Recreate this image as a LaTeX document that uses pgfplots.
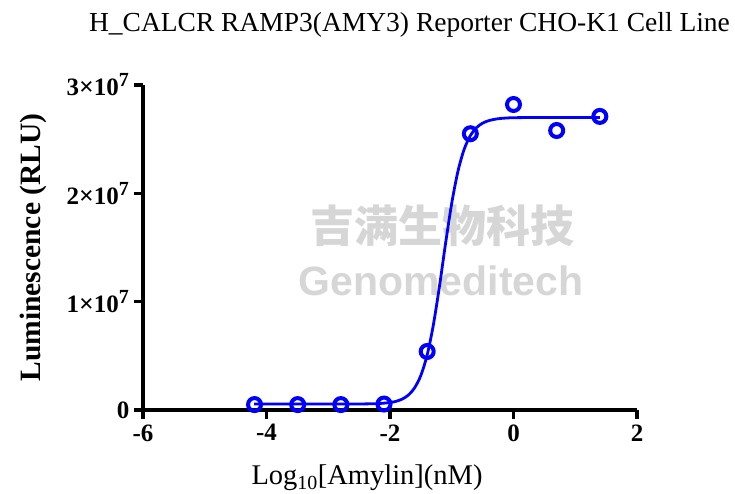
\documentclass[border=0pt]{standalone}
\usepackage{pgfplots}
\pgfplotsset{compat=1.18}
\usepackage{fontspec}
\setmainfont{Liberation Serif}
\newfontfamily\cjk{Noto Sans CJK SC}
\newfontfamily\wmsans{Liberation Sans}
\definecolor{myblue}{RGB}{0,0,255}
\definecolor{wm}{RGB}{214,214,214}
\begin{document}
\begin{tikzpicture}
\useasboundingbox (0pt,0pt) rectangle (735pt,494pt);
% watermark
\node[text=wm, font=\cjk\bfseries\fontsize{44}{48}\selectfont, inner sep=0pt] at (442pt,268pt) {吉满生物科技};
\node[text=wm, font=\wmsans\bfseries\fontsize{41}{45}\selectfont, inner sep=0pt] at (441pt,213pt) {Genomeditech};
% title
\node[font=\fontsize{27.5}{30}\selectfont, anchor=base, inner sep=0pt] at (409.5pt,462pt) {H\_CALCR RAMP3(AMY3) Reporter CHO-K1 Cell Line};
% axis labels
\node[font=\fontsize{28.5}{30}\selectfont, anchor=base, inner sep=0pt] at (367pt,9pt) {Log\textsubscript{10}[Amylin](nM)};
\node[font=\bfseries\fontsize{29.5}{30}\selectfont, rotate=90, inner sep=0pt] at (33pt,246.5pt) {Luminescence (RLU)};
\begin{axis}[
  at={(513.5pt,84pt)}, anchor=origin,
  width=494pt, height=325pt, scale only axis,
  xmin=-6, xmax=2, ymin=0, ymax=3e7,
  axis x line=bottom, axis y line=left,
  axis line style={-, line width=3.6pt, black},
  every outer x axis line/.append style={-, line width=3.6pt, black},
  every outer y axis line/.append style={-, line width=3.6pt, black},
  xtick={-6,-4,-2,0,2},
  xticklabels={-6,-4,-2,0,2},
  ytick={0,1e7,2e7,3e7},
  yticklabels={0,1{\fontsize{26}{26}\selectfont ×}10\textsuperscript{\fontsize{20}{20}\selectfont 7},2{\fontsize{26}{26}\selectfont ×}10\textsuperscript{\fontsize{20}{20}\selectfont 7},3{\fontsize{26}{26}\selectfont ×}10\textsuperscript{\fontsize{20}{20}\selectfont 7}},
  scaled y ticks=false,
  tick align=outside,
  major tick length=9pt,
  every tick/.style={black, line width=3.6pt},
  xtick style={black, line width=3.6pt},
  ytick style={black, line width=3.6pt},
  ticklabel style={font=\bfseries\fontsize{25}{27}\selectfont},
  xticklabel style={yshift=-2pt},
  yticklabel style={xshift=-1pt},
  clip=false,
]
\addplot[myblue, line width=2.8pt, smooth] coordinates {
(-4.2,5.5e5) (-3.0,5.5e5) (-2.5,5.57e5) (-2.2,5.91e5) (-2.0,6.89e5) (-1.9,8.04e5)
(-1.8,1.013e6) (-1.7,1.39e6) (-1.6,2.06e6) (-1.5,3.20e6) (-1.4,5.04e6)
(-1.3,7.79e6) (-1.2,1.138e7) (-1.1,1.539e7) (-1.0,1.91e7) (-0.9,2.203e7)
(-0.8,2.405e7) (-0.7,2.531e7) (-0.6,2.606e7) (-0.5,2.648e7) (-0.4,2.671e7)
(-0.3,2.684e7) (-0.2,2.6915e7) (0.0,2.698e7) (0.5,2.70e7) (1.4,2.70e7)
};
\addplot[only marks, mark=o, mark size=6.5pt, myblue, line width=4pt] coordinates {
(-4.194,5.0e5) (-3.495,5.0e5) (-2.796,5.0e5) (-2.097,5.5e5) (-1.398,5.4e6)
(-0.699,2.55e7) (0,2.82e7) (0.699,2.58e7) (1.398,2.71e7)
};
\end{axis}
\end{tikzpicture}
\end{document}
